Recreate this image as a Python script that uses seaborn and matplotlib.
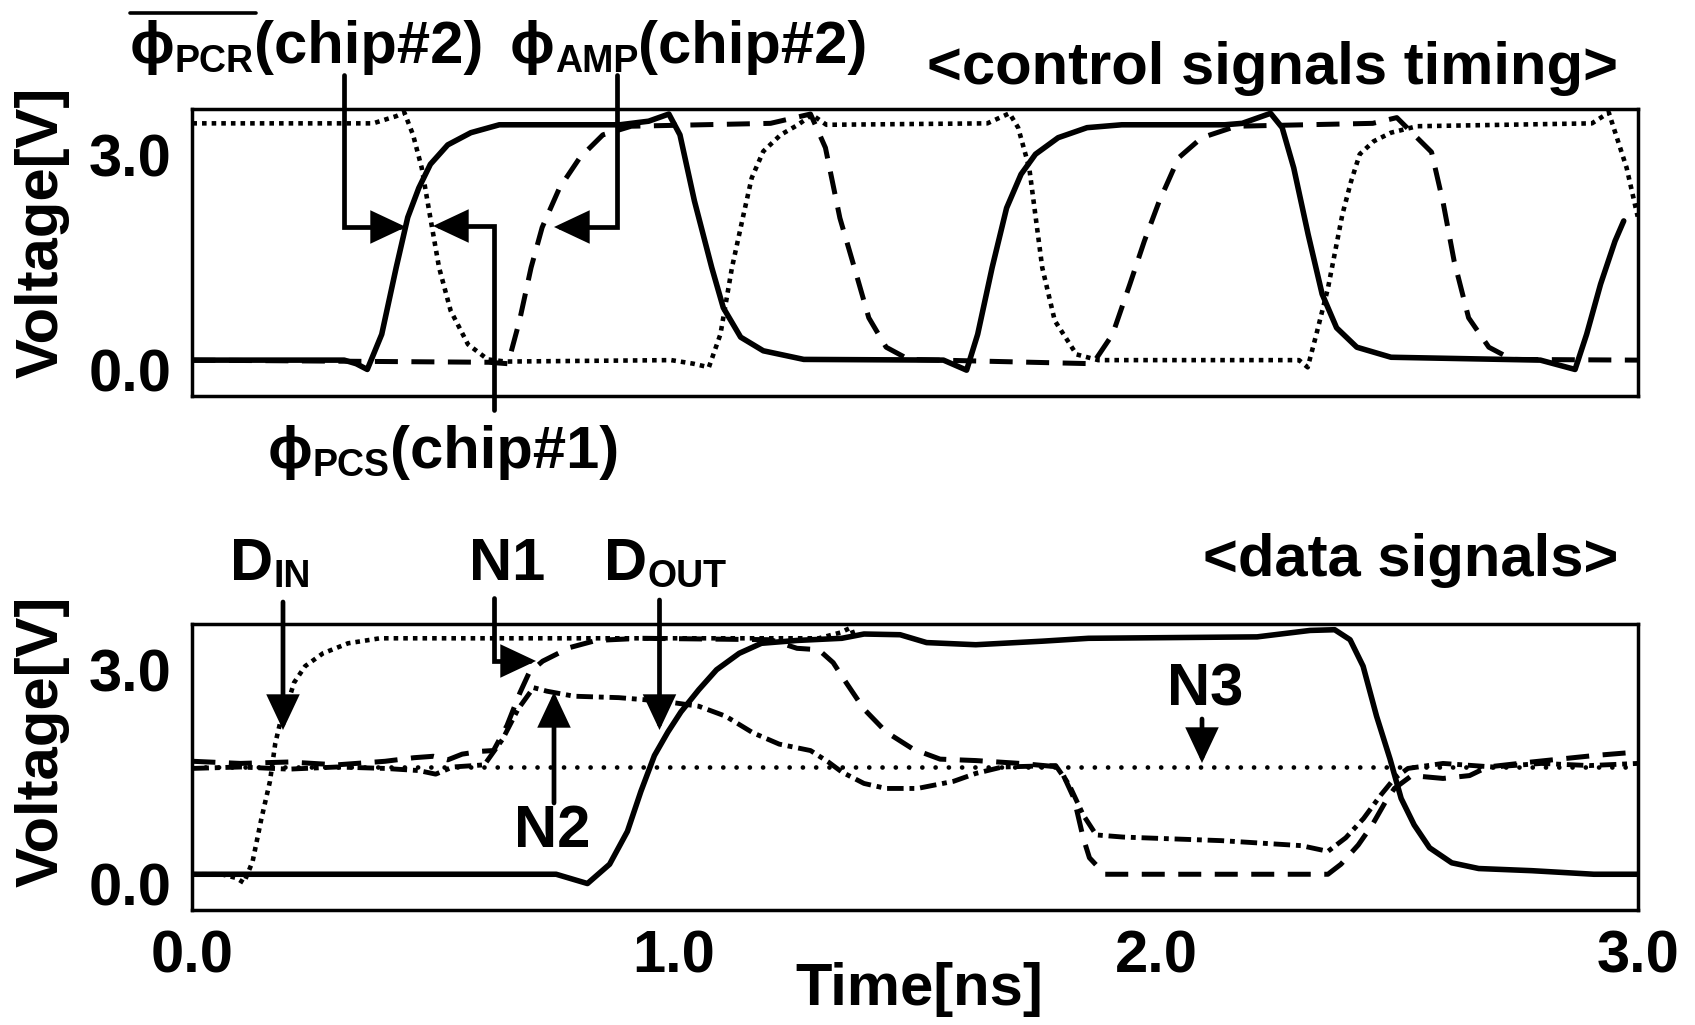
import matplotlib
matplotlib.use("Agg")
import matplotlib.pyplot as plt
from matplotlib.lines import Line2D
from matplotlib import transforms
import seaborn as sns

# ---------------- data ----------------
# top panel: control signals timing
pcr_t = [0, 0.315, 0.34, 0.363, 0.393, 0.423, 0.447, 0.47, 0.494, 0.53, 0.578, 0.637, 0.887, 0.947, 0.989,
         1.012, 1.042, 1.078, 1.102, 1.138, 1.185, 1.269, 1.559, 1.607, 1.63, 1.66, 1.69, 1.72, 1.75, 1.797,
         1.857, 1.929, 2.143, 2.179, 2.238, 2.262, 2.286, 2.316, 2.345, 2.375, 2.417, 2.488, 2.798, 2.87,
         2.894, 2.923, 2.953, 2.971]
pcr_v = [0, 0, -0.05, -0.13, 0.36, 1.29, 1.99, 2.4, 2.73, 3.0, 3.17, 3.28, 3.28, 3.33, 3.43,
         3.14, 2.22, 1.29, 0.73, 0.32, 0.13, 0.01, 0.0, -0.14, 0.36, 1.29, 2.12, 2.59, 2.87, 3.1,
         3.24, 3.28, 3.28, 3.3, 3.44, 3.24, 2.68, 1.75, 0.92, 0.45, 0.18, 0.04, 0.0, -0.13,
         0.36, 1.06, 1.66, 1.94]

pcs_t = [0, 0.375, 0.423, 0.44, 0.458, 0.476, 0.494, 0.512, 0.536, 0.572, 0.613, 0.65, 0.994, 1.04, 1.072,
         1.096, 1.12, 1.144, 1.161, 1.185, 1.221, 1.257, 1.286, 1.316, 1.65, 1.696, 1.714, 1.737, 1.764,
         1.79, 1.835, 1.88, 2.297, 2.315, 2.333, 2.357, 2.387, 2.405, 2.423, 2.452, 2.488, 2.542, 2.905,
         2.94, 2.977, 3.0]
pcs_v = [3.3, 3.3, 3.4, 3.45, 3.14, 2.68, 1.98, 1.29, 0.69, 0.22, 0.01, -0.02, 0.0, -0.05, -0.1,
         0.36, 1.29, 2.03, 2.54, 2.91, 3.14, 3.28, 3.42, 3.28, 3.3, 3.44, 3.24, 2.68, 1.29,
         0.55, 0.08, 0.0, 0.0, -0.1, 0.36, 1.0, 2.03, 2.49, 2.87, 3.05, 3.17, 3.26, 3.3,
         3.45, 2.68, 2.0]

amp_t = [0, 0.615, 0.655, 0.679, 0.703, 0.726, 0.762, 0.804, 0.852, 0.911, 1.2, 1.283, 1.314, 1.344, 1.374,
         1.404, 1.44, 1.487, 1.869, 1.91, 1.946, 1.976, 2.006, 2.047, 2.095, 2.167, 2.45, 2.5, 2.572, 2.596,
         2.619, 2.649, 2.691, 2.739, 3.0]
amp_v = [0, -0.03, -0.05, 0.55, 1.29, 1.85, 2.4, 2.82, 3.14, 3.26, 3.3, 3.43, 2.96, 1.98, 1.29,
         0.59, 0.18, 0.01, -0.05, 0.36, 1.06, 1.66, 2.2, 2.82, 3.1, 3.26, 3.3, 3.38, 2.9, 2.2,
         1.38, 0.59, 0.18, 0.01, 0.0]

# bottom panel: data signals
din_t = [0, 0.06, 0.09, 0.107, 0.125, 0.143, 0.161, 0.172, 0.185, 0.196, 0.211, 0.234, 0.271, 0.323, 0.389,
         0.5, 1.3, 1.345, 1.367, 1.375]
din_v = [0.0, 0.0, -0.05, -0.12, 0.18, 0.77, 1.3, 1.83, 2.2, 2.35, 2.68, 2.91, 3.09, 3.23, 3.3,
         3.3, 3.3, 3.38, 3.45, 3.3]

n3_t = [0.0, 3.0]
n3_v = [1.5, 1.5]

n1_t = [0, 0.1, 0.2, 0.3, 0.4, 0.46, 0.5, 0.53, 0.56, 0.6, 0.625, 0.653, 0.68, 0.699, 0.727, 0.783, 0.838,
        0.931, 1.2, 1.255, 1.30, 1.33, 1.357, 1.394, 1.44, 1.496, 1.552, 1.626, 1.718, 1.80, 1.83, 1.849,
        1.862, 1.894, 2.357, 2.384, 2.42, 2.449, 2.477, 2.495, 2.531, 2.596, 2.651, 2.688, 2.78, 2.909, 3.0]
n1_v = [1.58, 1.55, 1.57, 1.53, 1.58, 1.63, 1.65, 1.6, 1.68, 1.72, 1.73, 2.08, 2.54, 2.82, 2.98, 3.17, 3.27,
        3.3, 3.28, 3.16, 3.14, 2.96, 2.68, 2.31, 1.99, 1.75, 1.61, 1.59, 1.55, 1.5, 1.06, 0.51,
        0.23, 0.0, 0.0, 0.14, 0.41, 0.69, 1.02, 1.2, 1.38, 1.34, 1.38, 1.5, 1.57, 1.66, 1.71]

n2_t = [0, 0.1, 0.2, 0.3, 0.4, 0.47, 0.505, 0.54, 0.606, 0.644, 0.676, 0.708, 0.736, 0.792, 0.885, 0.977,
        1.051, 1.107, 1.163, 1.218, 1.283, 1.32, 1.348, 1.394, 1.44, 1.505, 1.58, 1.626, 1.681, 1.792, 1.82,
        1.849, 1.876, 1.932, 2.136, 2.302, 2.357, 2.394, 2.431, 2.467, 2.495, 2.523, 2.596, 2.7, 2.8, 2.9, 3.0]
n2_v = [1.48, 1.5, 1.47, 1.5, 1.48, 1.45, 1.4, 1.5, 1.53, 1.89, 2.31, 2.61, 2.56, 2.49, 2.47, 2.42,
        2.35, 2.21, 1.98, 1.82, 1.73, 1.57, 1.43, 1.27, 1.2, 1.2, 1.3, 1.41, 1.5, 1.52, 1.25,
        0.83, 0.55, 0.52, 0.47, 0.40, 0.32, 0.51, 0.78, 1.11, 1.34, 1.48, 1.55, 1.5, 1.55, 1.52, 1.55]

dout_t = [0, 0.755, 0.79, 0.82, 0.866, 0.903, 0.931, 0.959, 0.987, 1.014, 1.051, 1.088, 1.135, 1.181, 1.255,
          1.348, 1.394, 1.469, 1.524, 1.626, 1.765, 1.86, 2.21, 2.32, 2.371, 2.403, 2.43, 2.458, 2.486, 2.509,
          2.536, 2.568, 2.614, 2.67, 2.78, 2.909, 3.0]
dout_v = [0, 0, -0.07, -0.13, 0.14, 0.6, 1.16, 1.66, 1.99, 2.27, 2.58, 2.86, 3.09, 3.23, 3.27,
          3.30, 3.36, 3.35, 3.24, 3.21, 3.26, 3.30, 3.32, 3.41, 3.42, 3.28, 2.91, 2.21, 1.61, 1.06,
          0.69, 0.37, 0.16, 0.08, 0.05, 0.0, 0.0]

x_ticks = [0, 0.5, 1.0, 1.5, 2.0, 2.5, 3.0]
x_ticklabels = ["0.0", "", "1.0", "", "2.0", "", "3.0"]
y_ticks = [0, 1, 2, 3]
y_ticklabels = ["0.0", "", "", "3.0"]

# ---------------- styling ----------------
sns.set_style("white")
plt.rcParams["font.family"] = ["Liberation Sans", "DejaVu Sans"]
plt.rcParams["font.weight"] = "bold"
for k in ("text.color", "axes.labelcolor", "xtick.color", "ytick.color", "axes.edgecolor"):
    plt.rcParams[k] = "black"

W, H = 1695, 1025
fig = plt.figure(figsize=(W / 100, H / 100), dpi=100)
FS = 43
SUB = 27

def px_axes(left, top, right, bottom):
    return fig.add_axes([left / W, 1 - bottom / H, (right - left) / W, (bottom - top) / H])

ax1 = px_axes(192.4, 109, 1637.7, 396)
ax2 = px_axes(192.4, 624, 1637.7, 910)

DOT = (0, (1.0, 1.1))
DASH = (0, (4.6, 2.7))
DASHDOT = (0, (3.4, 1.2, 1.0, 1.2))

def line(ax, t, v, ls, lw, **kw):
    sns.lineplot(x=t, y=v, ax=ax, color="black", linestyle=ls, linewidth=lw,
                 estimator=None, sort=False, **kw)

line(ax1, amp_t, amp_v, DASH, 3.6)
line(ax1, pcs_t, pcs_v, DOT, 3.3)
line(ax1, pcr_t, pcr_v, "-", 4.0)

line(ax2, n3_t, n3_v, (0, (0.01, 2.8)), 3.4, dash_capstyle="round")
line(ax2, din_t, din_v, DOT, 3.3)
line(ax2, n2_t, n2_v, DASHDOT, 3.5)
line(ax2, n1_t, n1_v, DASH, 3.6)
line(ax2, dout_t, dout_v, "-", 4.0)

for ax in (ax1, ax2):
    ax.set_xlim(0, 3.0)
    ax.set_ylim(-0.5, 3.5)
    ax.set_xticks(x_ticks)
    ax.set_yticks(y_ticks)
    ax.set_yticklabels(y_ticklabels, fontsize=FS, fontweight="bold")
    ax.tick_params(axis="x", direction="in", length=16.5, width=2.2, pad=14, colors="black")
    ax.tick_params(axis="y", direction="in", length=10.5, width=2.2, pad=15, colors="black")
    ax.set_xlabel("")
    ax.set_ylabel("")
    for s in ax.spines.values():
        s.set_linewidth(2.5)
        s.set_color("black")
        s.set_visible(True)
    off = transforms.ScaledTranslation(0, -10 / 100, fig.dpi_scale_trans)
    for lab in ax.get_yticklabels():
        lab.set_transform(lab.get_transform() + off)

ax1.set_xticklabels([""] * len(x_ticks))
ax2.set_xticklabels(x_ticklabels, fontsize=FS, fontweight="bold")

# axis titles
fig.text(42 / W, 1 - 232 / H, "Voltage[V]", rotation=90, ha="center", va="center",
         fontsize=FS, fontweight="bold")
fig.text(42 / W, 1 - 741 / H, "Voltage[V]", rotation=90, ha="center", va="center",
         fontsize=FS, fontweight="bold")
fig.text(919 / W, 1 - 1005 / H, "Time[ns]", ha="center", va="baseline",
         fontsize=FS, fontweight="bold")

# ---------------- annotations ----------------
renderer = fig.canvas.get_renderer()
PHI = "\u03d5"

def rich(x, yb, parts):
    """parts: (text, size, baseline offset px)."""
    cx = x
    for s, size, dy in parts:
        t = fig.text(cx / W, 1 - (yb + dy) / H, s, fontsize=size, fontweight="bold",
                     ha="left", va="baseline")
        cx += t.get_window_extent(renderer).width
    return cx

rich(130, 63, [(PHI, FS, 0), ("PCR", SUB, 9), ("(chip#2)", FS, 0)])
fig.add_artist(Line2D([130 / W, 256 / W], [1 - 13 / H, 1 - 13 / H], transform=fig.transFigure,
                      color="black", lw=2.6))
rich(510, 63, [(PHI, FS, 0), ("AMP", SUB, 9), ("(chip#2)", FS, 0)])
fig.text(1618 / W, 1 - 84 / H, "<control signals timing>", ha="right", va="baseline",
         fontsize=FS, fontweight="bold")
rich(268, 468, [(PHI, FS, 0), ("PCS", SUB, 8), ("(chip#1)", FS, 0)])

rich(230, 580, [("D", FS, 0), ("IN", SUB, 7)])
rich(469, 580, [("N1", FS, 0)])
rich(604, 580, [("D", FS, 0), ("OUT", SUB, 7)])
fig.text(1618 / W, 1 - 576 / H, "<data signals>", ha="right", va="baseline",
         fontsize=FS, fontweight="bold")
rich(514, 847, [("N2", FS, 0)])
rich(1167, 706, [("N3", FS, 0)])

def arrow(ax, start, tip, elbow=False):
    props = dict(arrowstyle="-|>,head_length=1.0,head_width=0.47", mutation_scale=20,
                 lw=3.4, color="black", shrinkA=0, shrinkB=0, joinstyle="miter")
    if elbow:
        props["connectionstyle"] = "angle,angleA=90,angleB=0,rad=0"
    ann = ax.annotate("", xy=(tip[0], H - tip[1]), xycoords="figure pixels",
                      xytext=(start[0], H - start[1]), textcoords="figure pixels",
                      arrowprops=props, annotation_clip=False)
    ann.set_zorder(10)

arrow(ax1, (343.5, 75), (406, 227), elbow=True)
arrow(ax1, (494, 410), (433, 226), elbow=True)
arrow(ax1, (617, 75), (554, 227), elbow=True)
arrow(ax2, (283, 602), (283, 730))
arrow(ax2, (494, 598), (536, 661), elbow=True)
arrow(ax2, (659.5, 600), (659.5, 730))
arrow(ax2, (554, 803), (554, 692))
arrow(ax2, (1202, 719), (1202, 763))

fig.savefig("out.png", dpi=100, facecolor="white")
